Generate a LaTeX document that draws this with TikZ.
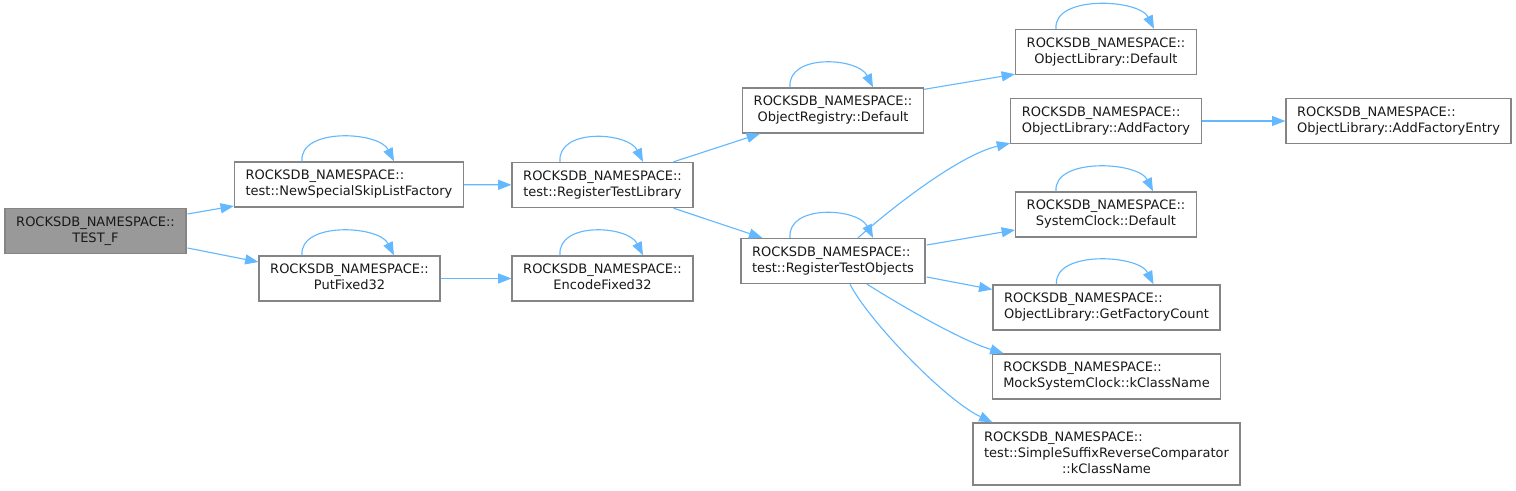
\documentclass[tikz,border=0pt]{standalone}
\usepackage{fontspec}
\setmainfont{DejaVu Sans}
\usepackage{tikz}
\usetikzlibrary{arrows.meta,positioning,calc}
\usepackage{xcolor}
\definecolor{edgeblue}{HTML}{63B8FF}
\definecolor{boxline}{HTML}{858585}
\definecolor{rootfill}{HTML}{999999}
\newcommand{\dlbl}[2]{\begin{tabular}{@{}l@{}}#1\\\multicolumn{1}{@{}c@{}}{#2}\end{tabular}}

\begin{document}
\begin{tikzpicture}[x=0.75pt,y=-0.75pt,
  fnbox/.style={draw=boxline,line width=1pt,fill=white,inner xsep=8.3pt,inner ysep=0pt,
    minimum height=33.75pt,font=\fontsize{9.75}{12}\selectfont,text=black!90},
  rootbox/.style={fnbox,fill=rootfill},
  callarrow/.style={draw=edgeblue,line width=0.85pt,-{Triangle[length=10pt,width=7.5pt]}}]
  \useasboundingbox (0,0) rectangle (1516,491);
  % Aufrufgraph von TEST_F
  \node[rootbox] (testf) at (95.5,231) {\dlbl{ROCKSDB\_NAMESPACE::}{TEST\_F}};
  \node[fnbox] (newskip) at (349,184.5) {\dlbl{ROCKSDB\_NAMESPACE::}{test::NewSpecialSkipListFactory}};
  \node[fnbox] (putfixed) at (349.5,278.5) {\dlbl{ROCKSDB\_NAMESPACE::}{PutFixed32}};
  \node[fnbox] (regtestlib) at (602.5,185) {\dlbl{ROCKSDB\_NAMESPACE::}{test::RegisterTestLibrary}};
  \node[fnbox] (encfixed) at (602.5,278.5) {\dlbl{ROCKSDB\_NAMESPACE::}{EncodeFixed32}};
  \node[fnbox] (objregdef) at (833,110.5) {\dlbl{ROCKSDB\_NAMESPACE::}{ObjectRegistry::Default}};
  \node[fnbox] (regtestobj) at (833,261) {\dlbl{ROCKSDB\_NAMESPACE::}{test::RegisterTestObjects}};
  \node[fnbox] (objlibdef) at (1106,52) {\dlbl{ROCKSDB\_NAMESPACE::}{ObjectLibrary::Default}};
  \node[fnbox] (addfactory) at (1106,121) {\dlbl{ROCKSDB\_NAMESPACE::}{ObjectLibrary::AddFactory}};
  \node[fnbox] (addentry) at (1398.5,121) {\dlbl{ROCKSDB\_NAMESPACE::}{ObjectLibrary::AddFactoryEntry}};
  \node[fnbox] (sysclock) at (1106,214.5) {\dlbl{ROCKSDB\_NAMESPACE::}{SystemClock::Default}};
  \node[fnbox] (getfactory) at (1106.5,307.5) {\dlbl{ROCKSDB\_NAMESPACE::}{ObjectLibrary::GetFactoryCount}};
  \node[fnbox] (mockclock) at (1106.5,376.5) {\dlbl{ROCKSDB\_NAMESPACE::}{MockSystemClock::kClassName}};
  \node[fnbox,minimum height=46.5pt] (suffixcmp) at (1106.5,454) {\begin{tabular}{@{}l@{}}ROCKSDB\_NAMESPACE::\\test::SimpleSuffixReverseComparator\\\multicolumn{1}{@{}c@{}}{::kClassName}\end{tabular}};

  % Aufrufe
  \draw[callarrow] ($(testf.east)+(1,-17)$) -- ($(newskip.west)+(0,21.5)$);
  \draw[callarrow] ($(testf.east)+(1,17)$) -- ($(putfixed.west)+(0,-16.5)$);
  \draw[callarrow] (newskip) -- (regtestlib);
  \draw[callarrow] (putfixed) -- (encfixed);
  \draw[callarrow] ($(regtestlib.north east)+(-20,0)$) -- ($(objregdef.south west)+(18,0)$);
  \draw[callarrow] ($(regtestlib.south east)+(-20,0)$) -- ($(regtestobj.north west)+(22,0)$);
  \draw[callarrow] ($(objregdef.north east)+(0,2)$) -- ($(objlibdef.south west)+(0,-1)$);
  \draw[callarrow] (addfactory) -- (addentry);
  \draw[callarrow] ($(regtestobj.north)+(25,0)$) .. controls (895,205) and (960,155) .. ($(addfactory.south west)+(0,-1)$);
  \draw[callarrow] ($(regtestobj.east)+(1,-16)$) -- ($(sysclock.west)+(0,15.5)$);
  \draw[callarrow] ($(regtestobj.east)+(1,16)$) -- ($(getfactory.west)+(0,-18)$);
  \draw[callarrow] ($(regtestobj.south)+(34,0)$) .. controls (900,305) and (960,340) .. ($(mockclock.north west)+(12,0)$);
  \draw[callarrow] ($(regtestobj.south)+(17,0)$) .. controls (868,320) and (945,400) .. ($(suffixcmp.north west)+(20,0)$);

  % rekursive Aufrufe
  \draw[callarrow] ($(newskip.north)+(-47,0)$) .. controls +(-3,-34) and +(-15,-30) .. ($(newskip.north)+(45,0)$);
  \draw[callarrow] ($(putfixed.north)+(-47.5,0)$) .. controls +(-3,-34) and +(-15,-30) .. ($(putfixed.north)+(44.5,0)$);
  \draw[callarrow] ($(regtestlib.north)+(-42.5,0)$) .. controls +(-3,-34) and +(-15,-30) .. ($(regtestlib.north)+(40.5,0)$);
  \draw[callarrow] ($(encfixed.north)+(-42.5,0)$) .. controls +(-3,-34) and +(-15,-30) .. ($(encfixed.north)+(40.5,0)$);
  \draw[callarrow] ($(objregdef.north)+(-43,0)$) .. controls +(-3,-34) and +(-15,-30) .. ($(objregdef.north)+(40,0)$);
  \draw[callarrow] ($(regtestobj.north)+(-43,0)$) .. controls +(-3,-34) and +(-15,-30) .. ($(regtestobj.north)+(40,0)$);
  \draw[callarrow] ($(objlibdef.north)+(-50,0)$) .. controls +(-3,-34) and +(-15,-30) .. ($(objlibdef.north)+(48,0)$);
  \draw[callarrow] ($(sysclock.north)+(-50,0)$) .. controls +(-3,-34) and +(-15,-30) .. ($(sysclock.north)+(47,0)$);
  \draw[callarrow] ($(getfactory.north)+(-50,0)$) .. controls +(-3,-34) and +(-15,-30) .. ($(getfactory.north)+(47,0)$);
\end{tikzpicture}
\end{document}
